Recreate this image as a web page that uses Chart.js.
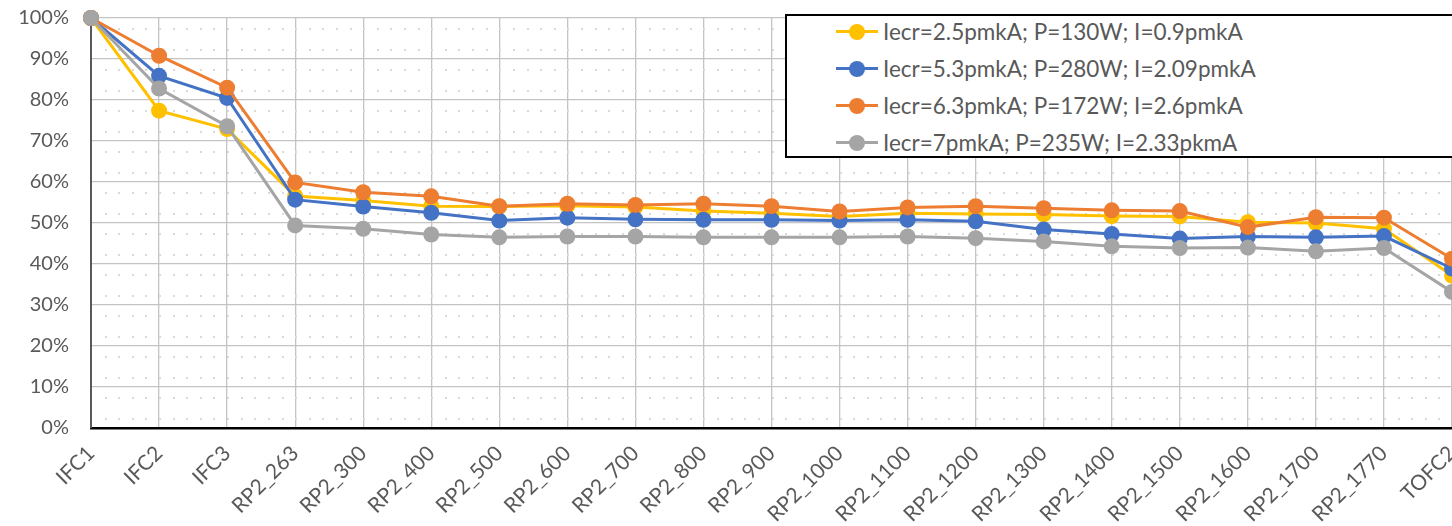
<!DOCTYPE html>
<html>
<head>
<meta charset="utf-8">
<script src="https://cdn.jsdelivr.net/npm/chart.js@4.4.1/dist/chart.umd.min.js"></script>
<style>
  html, body { margin: 0; padding: 0; background: #fff; overflow: hidden; }
  .wrap { position: relative; width: 1500px; height: 526px; overflow: hidden; }
  .plot { position: absolute; left: 0; top: -16px; width: 1500px; height: 542px; }
  .legend {
    position: absolute; left: 785px; top: 14px; width: 720px; height: 144px;
    border: 2px solid #000; background: #fff; box-sizing: border-box;
    font-family: Lato, sans-serif; font-size: 22.5px; color: #595959;
  }
  .legend .rows { margin-top: -3px; }
  .legend .row { height: 37px; display: flex; align-items: center; padding-left: 49px; }
  .legend .mark { position: relative; width: 42px; height: 16px; margin-right: 5px; }
  .legend .mark i { position: absolute; left: 0; right: 0; top: 6.5px; height: 3px; }
  .legend .mark b { position: absolute; left: 13px; top: 0; width: 16px; height: 16px; border-radius: 50%; }
</style>
</head>
<body>
<div class="wrap">
  <div class="plot"><canvas id="chart"></canvas></div>
  <div class="legend"><div class="rows" id="legend"></div></div>
</div>
<script>
const categories = ['IFC1', 'IFC2', 'IFC3', 'RP2_263', 'RP2_300', 'RP2_400', 'RP2_500', 'RP2_600',
  'RP2_700', 'RP2_800', 'RP2_900', 'RP2_1000', 'RP2_1100', 'RP2_1200', 'RP2_1300', 'RP2_1400',
  'RP2_1500', 'RP2_1600', 'RP2_1700', 'RP2_1770', 'TOFC2'];

const seriesNames = [
  'Iecr=2.5pmkA; P=130W; I=0.9pmkA',
  'Iecr=5.3pmkA; P=280W; I=2.09pmkA',
  'Iecr=6.3pmkA; P=172W; I=2.6pmkA',
  'Iecr=7pmkA; P=235W; I=2.33pkmA'
];

const iecr25 = [100, 77.4, 72.9, 56.6, 55.5, 54.1, 54.0, 54.2, 53.9, 52.9, 52.4, 51.6, 52.4, 52.2, 52.1, 51.7, 51.6, 50.2, 50.0, 48.6, 37.2];
const iecr53 = [100, 85.9, 80.5, 55.7, 54.0, 52.5, 50.6, 51.3, 50.9, 50.8, 50.8, 50.6, 50.8, 50.4, 48.4, 47.3, 46.2, 46.7, 46.5, 46.8, 38.9];
const iecr63 = [100, 90.8, 83.0, 59.9, 57.5, 56.5, 54.1, 54.7, 54.4, 54.7, 54.1, 52.8, 53.8, 54.1, 53.6, 53.1, 52.9, 49.0, 51.4, 51.3, 41.3];
const iecr7 = [100, 82.8, 73.6, 49.4, 48.6, 47.2, 46.5, 46.7, 46.7, 46.5, 46.5, 46.5, 46.7, 46.3, 45.5, 44.3, 43.9, 44.0, 43.1, 43.9, 33.2];

const yTicks = [0, 10, 20, 30, 40, 50, 60, 70, 80, 90, 100];

const colors = ['#FFC000', '#4472C4', '#ED7D31', '#A5A5A5'];
const seriesData = [iecr25, iecr53, iecr63, iecr7];

// legend as plain html with a border, like the Excel one
const legendEl = document.getElementById('legend');
seriesNames.forEach((name, i) => {
  const row = document.createElement('div');
  row.className = 'row';
  row.innerHTML = '<span class="mark"><i style="background:' + colors[i] + '"></i><b style="background:' +
    colors[i] + '"></b></span><span>' + name + '</span>';
  legendEl.appendChild(row);
});

// faint dotted minor grid between the solid lines
const dotGrid = {
  id: 'dotGrid',
  beforeDatasetsDraw(chart) {
    const { ctx, chartArea: a, scales } = chart;
    const step = (scales.x.getPixelForValue(1) - scales.x.getPixelForValue(0)) / 5;
    ctx.save();
    ctx.fillStyle = '#dadada';
    for (let v = 2.5; v < 100; v += 5) {
      const y = Math.round(scales.y.getPixelForValue(v));
      for (let x = a.left + step; x < a.right; x += step) ctx.fillRect(Math.round(x), y, 2, 2);
    }
    ctx.restore();
  }
};

const ctx = document.getElementById('chart').getContext('2d');
new Chart(ctx, {
  type: 'line',
  data: {
    labels: categories,
    datasets: seriesData.map((d, i) => ({
      label: seriesNames[i],
      data: d,
      borderColor: colors[i],
      backgroundColor: colors[i],
      borderWidth: 3,
      pointRadius: 8,
      pointBorderWidth: 0,
      pointHoverRadius: 8,
      tension: 0,
      clip: false,
      order: 4 - i
    }))
  },
  plugins: [dotGrid],
  options: {
    responsive: true,
    maintainAspectRatio: false,
    animation: false,
    layout: { padding: { top: 1, right: 48, left: 0, bottom: 0 } },
    plugins: {
      legend: { display: false },
      tooltip: { enabled: false }
    },
    scales: {
      x: {
        offset: false,
        afterFit: s => { s.height = 98; },
        grid: { color: '#c4c4c4', lineWidth: 1.3, drawTicks: false },
        border: { color: '#000', width: 2.5 },
        ticks: {
          color: '#595959',
          font: { family: 'Lato', size: 21 },
          maxRotation: 45,
          minRotation: 45,
          autoSkip: false,
          padding: 13
        }
      },
      y: {
        min: 0,
        max: 100,
        afterFit: s => { s.width = 91; },
        afterBuildTicks: s => {
          const t = [];
          for (let v = 0; v <= 100; v += 5) t.push({ value: v });
          s.ticks = t;
        },
        grid: {
          color: c => (yTicks.includes(c.tick.value) ? '#c4c4c4' : '#dedede'),
          lineWidth: 1.3,
          drawTicks: false
        },
        border: { color: '#595959', width: 2 },
        ticks: {
          color: '#595959',
          font: { family: 'Lato', size: 20 },
          padding: 22,
          callback: v => (yTicks.includes(v) ? v + '%' : '')
        }
      }
    }
  }
});
</script>
</body>
</html>
